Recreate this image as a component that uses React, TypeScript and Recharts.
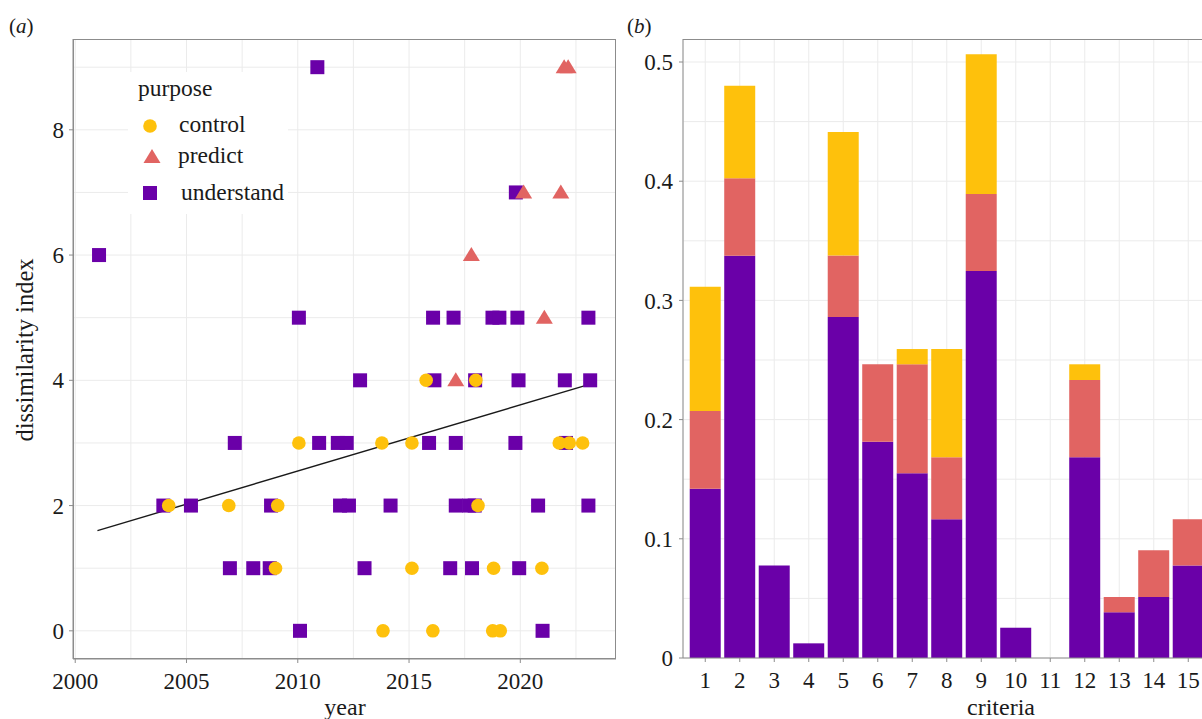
import { ScatterChart, Scatter, XAxis, YAxis, CartesianGrid, ReferenceLine, Legend, BarChart, Bar } from 'recharts';

const SERIF = '"Liberation Serif", "DejaVu Serif", "Noto Serif", "Times New Roman", Times, serif';
const PURPLE = '#6a00a8';
const RED = '#e16462';
const GOLD = '#fec10c';
const AXIS_GREY = '#8c8c8c';
const GRID = '#ebebeb';

// panel (a): dissimilarity index by year, split by purpose
const controlPoints = [
  { year: 2013.83, index: 0 }, { year: 2016.07, index: 0 }, { year: 2018.76, index: 0 }, { year: 2019.1, index: 0 },
  { year: 2009.0, index: 1 }, { year: 2015.13, index: 1 }, { year: 2018.8, index: 1 }, { year: 2020.97, index: 1 },
  { year: 2004.2, index: 2 }, { year: 2006.9, index: 2 }, { year: 2009.1, index: 2 }, { year: 2018.1, index: 2 },
  { year: 2010.05, index: 3 }, { year: 2013.78, index: 3 }, { year: 2015.13, index: 3 }, { year: 2021.75, index: 3 },
  { year: 2022.2, index: 3 }, { year: 2022.8, index: 3 },
  { year: 2015.77, index: 4 }, { year: 2018.0, index: 4 },
];

const predictPoints = [
  { year: 2017.1, index: 4 },
  { year: 2021.08, index: 5 },
  { year: 2017.8, index: 6 },
  { year: 2020.15, index: 7 }, { year: 2021.82, index: 7 },
  { year: 2021.97, index: 9 }, { year: 2022.15, index: 9 },
];

const understandPoints = [
  { year: 2010.1, index: 0 }, { year: 2021.0, index: 0 },
  { year: 2006.95, index: 1 }, { year: 2008.0, index: 1 }, { year: 2008.74, index: 1 }, { year: 2013.0, index: 1 },
  { year: 2016.85, index: 1 }, { year: 2017.83, index: 1 }, { year: 2019.95, index: 1 },
  { year: 2003.96, index: 2 }, { year: 2005.2, index: 2 }, { year: 2008.8, index: 2 }, { year: 2011.9, index: 2 },
  { year: 2012.3, index: 2 }, { year: 2014.17, index: 2 }, { year: 2017.1, index: 2 }, { year: 2017.7, index: 2 },
  { year: 2017.95, index: 2 }, { year: 2020.8, index: 2 }, { year: 2023.06, index: 2 },
  { year: 2007.17, index: 3 }, { year: 2010.96, index: 3 }, { year: 2011.8, index: 3 }, { year: 2012.2, index: 3 },
  { year: 2015.9, index: 3 }, { year: 2017.1, index: 3 }, { year: 2019.78, index: 3 }, { year: 2022.05, index: 3 },
  { year: 2012.8, index: 4 }, { year: 2016.14, index: 4 }, { year: 2017.97, index: 4 }, { year: 2019.92, index: 4 },
  { year: 2022.0, index: 4 }, { year: 2023.14, index: 4 },
  { year: 2010.05, index: 5 }, { year: 2016.08, index: 5 }, { year: 2017.0, index: 5 }, { year: 2018.75, index: 5 },
  { year: 2019.06, index: 5 }, { year: 2019.87, index: 5 }, { year: 2023.06, index: 5 },
  { year: 2001.07, index: 6 },
  { year: 2019.8, index: 7 },
  { year: 2010.88, index: 9 },
];

const trendLine = [{ x: 2001, y: 1.6 }, { x: 2023.14, y: 3.94 }];

const yearTicks = [2000, 2005, 2010, 2015, 2020];
const yearGrid = [2000, 2002.5, 2005, 2007.5, 2010, 2012.5, 2015, 2017.5, 2020, 2022.5];
const indexTicks = [0, 2, 4, 6, 8];
const indexGrid = [0, 1, 2, 3, 4, 5, 6, 7, 8, 9];

// panel (b): share per criterion, stacked by purpose
const criteria = ['1', '2', '3', '4', '5', '6', '7', '8', '9', '10', '11', '12', '13', '14', '15'];
const understandShare = [0.142, 0.3375, 0.0775, 0.0123, 0.286, 0.1815, 0.155, 0.1163, 0.3247, 0.0254, 0, 0.1684, 0.0383, 0.0512, 0.0775];
const predictShare = [0.0652, 0.0649, 0, 0, 0.0517, 0.0649, 0.0914, 0.0521, 0.0646, 0, 0, 0.0648, 0.0129, 0.0391, 0.0388];
const controlShare = [0.1043, 0.0777, 0, 0, 0.1035, 0, 0.0128, 0.0908, 0.1172, 0, 0, 0.0132, 0, 0, 0];
const shareTicks = [0, 0.1, 0.2, 0.3, 0.4, 0.5];
const shareGrid = [0, 0.05, 0.1, 0.15, 0.2, 0.25, 0.3, 0.35, 0.4, 0.45, 0.5];

const barData = criteria.map((c, i) => ({
  criterion: c,
  understand: understandShare[i],
  predict: predictShare[i],
  control: controlShare[i],
}));

const tickStyle = { fill: '#1a1a1a', fontSize: 23, fontFamily: SERIF };

const CircleDot = ({ cx, cy }: any) => <circle cx={cx} cy={cy} r={6.8} fill={GOLD} />;
const SquareDot = ({ cx, cy }: any) => <rect x={cx - 7} y={cy - 7} width={14} height={14} fill={PURPLE} />;
const TriangleDot = ({ cx, cy }: any) => (
  <polygon points={`${cx},${cy - 8} ${cx - 8.5},${cy + 6} ${cx + 8.5},${cy + 6}`} fill={RED} />
);

const PurposeLegend = () => (
  <svg width={160} height={142} style={{ display: 'block' }}>
    <rect x={0} y={0} width={160} height={142} fill="#fff" />
    <g fontFamily={SERIF} fontSize={23.5} fill="#1a1a1a">
      <text x={10} y={24}>purpose</text>
      <circle cx={22} cy={54} r={6.8} fill={GOLD} />
      <text x={51} y={59.5}>control</text>
      <polygon points="24,77 15.5,91 32.5,91" fill={RED} />
      <text x={50} y={91}>predict</text>
      <rect x={15} y={114} width={14} height={14} fill={PURPLE} />
      <text x={53} y={128}>understand</text>
    </g>
  </svg>
);

const App = () => {
  return (
    <div style={{ position: 'fixed', left: 0, top: 0, width: 1202, height: 719, overflow: 'hidden', background: '#fff', fontFamily: SERIF }}>
      <div style={{ position: 'absolute', left: 0, top: 0 }}>
        <ScatterChart width={620} height={719} margin={{ top: 39, right: 4, bottom: 30, left: 13 }}>
          <CartesianGrid stroke={GRID} strokeWidth={1} horizontalValues={indexGrid} verticalValues={yearGrid} />
          <XAxis
            type="number"
            dataKey="year"
            domain={[1999.9, 2024.3]}
            ticks={yearTicks}
            height={30}
            tick={tickStyle}
            tickSize={4}
            tickMargin={10}
            axisLine={{ stroke: AXIS_GREY }}
            tickLine={{ stroke: AXIS_GREY }}
          />
          <YAxis
            type="number"
            dataKey="index"
            domain={[-0.45, 9.45]}
            ticks={indexTicks}
            width={60}
            tick={tickStyle}
            tickSize={4}
            tickMargin={5}
            axisLine={{ stroke: AXIS_GREY }}
            tickLine={{ stroke: AXIS_GREY }}
          />
          <Legend
            layout="vertical"
            align="center"
            verticalAlign="middle"
            content={() => <PurposeLegend />}
            wrapperStyle={{ left: 128, top: 72, width: 160, height: 142 }}
          />
          <Scatter name="understand" data={understandPoints} shape={SquareDot} isAnimationActive={false} />
          <Scatter name="control" data={controlPoints} shape={CircleDot} isAnimationActive={false} />
          <Scatter name="predict" data={predictPoints} shape={TriangleDot} isAnimationActive={false} />
          <ReferenceLine segment={trendLine} stroke="#1a1a1a" strokeWidth={1.4} ifOverflow="visible" />
        </ScatterChart>
      </div>

      <div style={{ position: 'absolute', left: 620, top: 0 }}>
        <BarChart
          width={600}
          height={719}
          data={barData}
          margin={{ top: 39, right: 9.5, bottom: 31, left: 3 }}
          barCategoryGap="5%"
        >
          <CartesianGrid stroke={GRID} strokeWidth={1} horizontalValues={shareGrid} />
          <XAxis
            dataKey="criterion"
            height={30}
            padding={{ left: 5, right: 5 }}
            tick={tickStyle}
            tickSize={4}
            tickMargin={10}
            interval={0}
            axisLine={{ stroke: AXIS_GREY }}
            tickLine={{ stroke: AXIS_GREY }}
          />
          <YAxis
            type="number"
            domain={[0, 0.5193]}
            ticks={shareTicks}
            width={60}
            tick={tickStyle}
            tickSize={4}
            tickMargin={6}
            tickFormatter={(v: number) => (v === 0 ? '0' : v.toFixed(1))}
            axisLine={{ stroke: AXIS_GREY }}
            tickLine={{ stroke: AXIS_GREY }}
            allowDataOverflow
          />
          <Bar dataKey="understand" stackId="p" fill={PURPLE} isAnimationActive={false} />
          <Bar dataKey="predict" stackId="p" fill={RED} isAnimationActive={false} />
          <Bar dataKey="control" stackId="p" fill={GOLD} isAnimationActive={false} />
        </BarChart>
      </div>

      <svg width={1202} height={719} style={{ position: 'absolute', left: 0, top: 0, pointerEvents: 'none' }}>
        <rect x={73.5} y={39.5} width={542} height={619} fill="none" stroke={AXIS_GREY} strokeWidth={1} />
        <line x1={683} y1={39.5} x2={1202} y2={39.5} stroke={AXIS_GREY} strokeWidth={1} />
        <g fontFamily={SERIF} fill="#1a1a1a">
          <text x={9} y={33} fontSize={21}>(<tspan fontStyle="italic">a</tspan>)</text>
          <text x={627} y={33} fontSize={21}>(<tspan fontStyle="italic">b</tspan>)</text>
          <text x={345} y={715} fontSize={24} textAnchor="middle">year</text>
          <text x={1001} y={715} fontSize={24} textAnchor="middle">criteria</text>
          <text x={33} y={350} fontSize={24.5} textAnchor="middle" transform="rotate(-90 33 350)">dissimilarity index</text>
        </g>
      </svg>
    </div>
  );
};

export default App;
